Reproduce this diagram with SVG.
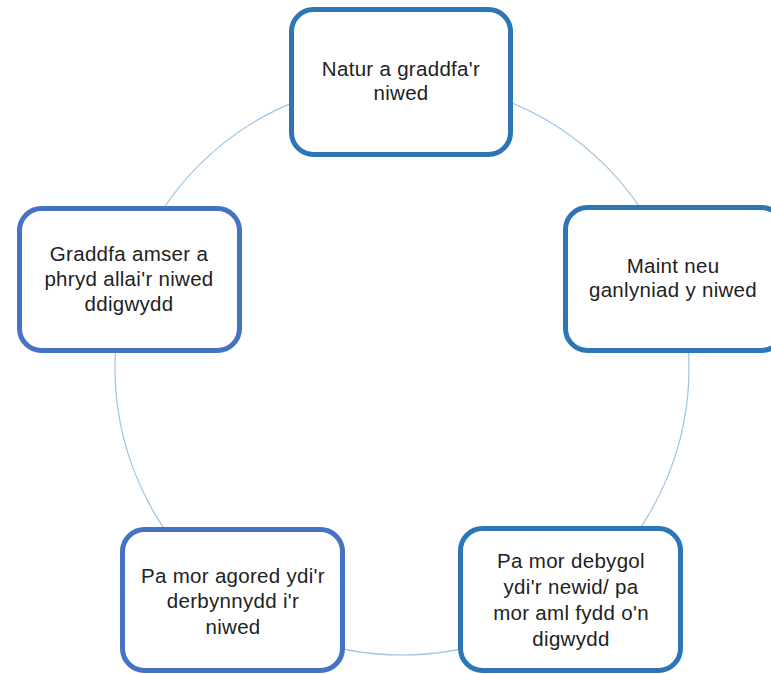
<svg xmlns="http://www.w3.org/2000/svg" width="771" height="674" viewBox="0 0 771 674">
<style>
.node{fill:#ffffff;stroke-width:5}
.a{stroke:#2E75B6}
.b{stroke:#4472C4}
text{font-family:"Liberation Sans",Arial,sans-serif;font-size:20.5px;fill:#222222;text-anchor:middle;letter-spacing:0.3px}
.conn{fill:none;stroke:#9DC3E6;stroke-width:1.2}
</style>
<rect width="771" height="674" fill="#ffffff"/>
<g id="connectors">
<circle class="conn" cx="402" cy="368" r="287"/>
</g>
<g id="node-top">
<rect class="node a" x="291.5" y="9.5" width="219" height="145" rx="22"/>
<text x="401" y="76">Natur a graddfa'r</text>
<text x="401" y="100">niwed</text>
</g>
<g id="node-right">
<rect class="node a" x="565.5" y="207.5" width="218" height="143" rx="22"/>
<text x="673" y="273">Maint neu</text>
<text x="673" y="297">ganlyniad y niwed</text>
</g>
<g id="node-left">
<rect class="node b" x="19.5" y="208.5" width="220" height="142" rx="22"/>
<text x="129" y="261">Graddfa amser a</text>
<text x="129" y="286">phryd allai'r niwed</text>
<text x="129" y="311">ddigwydd</text>
</g>
<g id="node-bottom-left">
<rect class="node b" x="122.5" y="529.5" width="220" height="141" rx="22"/>
<text x="233" y="583">Pa mor agored ydi'r</text>
<text x="233" y="608">derbynnydd i'r</text>
<text x="233" y="634">niwed</text>
</g>
<g id="node-bottom-right">
<rect class="node a" x="460.5" y="528.5" width="220" height="142" rx="22"/>
<text x="571" y="568">Pa mor debygol</text>
<text x="571" y="594">ydi'r newid/ pa</text>
<text x="571" y="620">mor aml fydd o'n</text>
<text x="571" y="646">digwydd</text>
</g>
</svg>
